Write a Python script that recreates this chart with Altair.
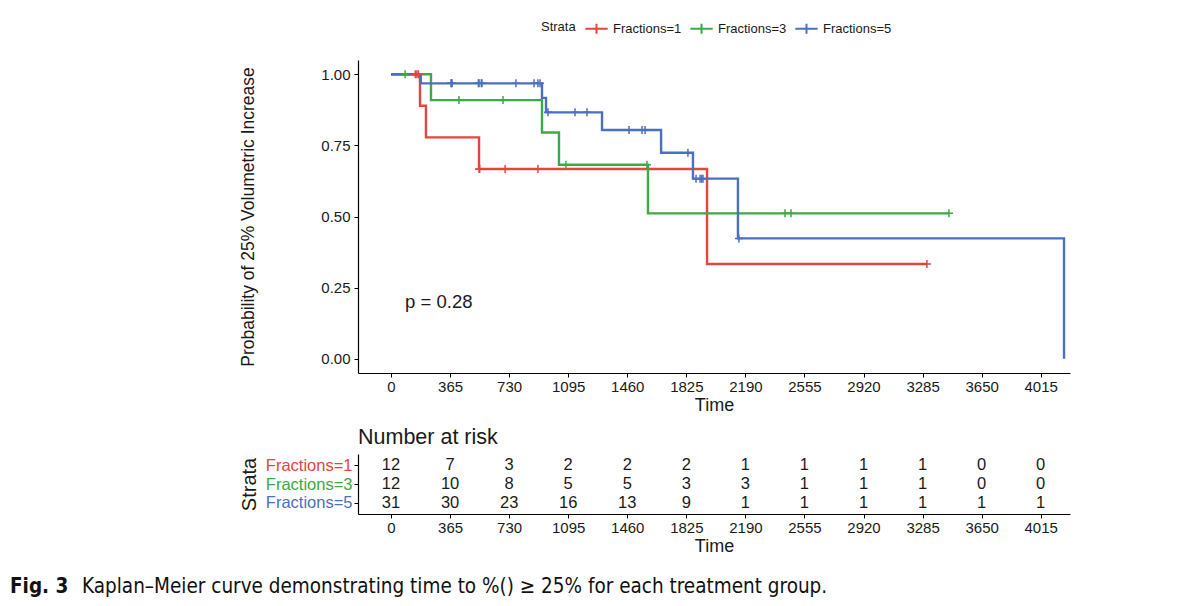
import altair as alt
import pandas as pd

# ---------------- data ----------------
strata = ["Fractions=1", "Fractions=3", "Fractions=5"]
colors = ["#E2463E", "#3DA948", "#4A70BF"]

# Kaplan-Meier step points (time in days, survival)
red_t = [0, 179, 216, 544, 1953, 3312]
red_s = [1.0, 0.889, 0.778, 0.667, 0.333, 0.333]
red_cens = [150, 160, 170, 544, 548, 705, 908, 3312]

green_t = [0, 247, 933, 1038, 1588, 3448]
green_s = [1.0, 0.909, 0.795, 0.682, 0.511, 0.511]
green_cens = [87, 420, 692, 1081, 1582, 2435, 2472, 3448]

blue_t = [0, 184, 933, 958, 1304, 1669, 1866, 2144, 4159]
blue_s = [1.0, 0.968, 0.917, 0.866, 0.804, 0.724, 0.633, 0.423, 0.0]
blue_cens = [371, 374, 377, 540, 544, 558, 562, 772, 884, 908, 921, 970,
             1137, 1211, 1471, 1551, 1570, 1835, 1885, 1910, 1920, 1928, 2150]

time_ticks = [0, 365, 730, 1095, 1460, 1825, 2190, 2555, 2920, 3285, 3650, 4015]
risk_1 = [12, 7, 3, 2, 2, 2, 1, 1, 1, 1, 0, 0]
risk_3 = [12, 10, 8, 5, 5, 3, 3, 1, 1, 1, 0, 0]
risk_5 = [31, 30, 23, 16, 13, 9, 1, 1, 1, 1, 1, 1]

p_text = ["p = 0.28"]
fig_label = ["Fig. 3"]
caption = ["Kaplan\u2013Meier curve demonstrating time to %() \u2265 25% for each treatment group."]

# ---------------- tables ----------------
curves = [(strata[0], red_t, red_s, red_cens),
          (strata[1], green_t, green_s, green_cens),
          (strata[2], blue_t, blue_s, blue_cens)]

step_rows, cens_rows = [], []
for name, ts, ss, cs in curves:
    for t, s in zip(ts, ss):
        step_rows.append({"strata": name, "time": t, "surv": s})
    for c in cs:
        val = ss[0]
        for t, s in zip(ts, ss):
            if t <= c:
                val = s
        cens_rows.append({"strata": name, "time": c, "surv": val})
steps_df = pd.DataFrame(step_rows)
cens_df = pd.DataFrame(cens_rows)

risk_rows = []
for name, arr in zip(strata, [risk_1, risk_3, risk_5]):
    for t, n in zip(time_ticks, arr):
        risk_rows.append({"strata": name, "time": t, "n": n})
risk_df = pd.DataFrame(risk_rows)

FONT = "Liberation Sans"
CAPFONT = "DejaVu Sans Condensed, Liberation Sans Narrow, Liberation Sans"
TXT = "#1a1a1a"

xscale = alt.Scale(domain=[-204, 4196], nice=False, zero=False)

def x_axis():
    return alt.Axis(values=time_ticks, format="d", title="Time", labelFontSize=15,
                    titleFontSize=18, titleFontWeight="normal", labelColor=TXT,
                    titleColor=TXT, domainColor="#000", tickColor="#000", domainWidth=1.2,
                    tickWidth=1, tickSize=4, labelPadding=2, titlePadding=2, grid=False,
                    labelFlush=False, labelFont=FONT, titleFont=FONT)

color_enc = alt.Color("strata:N", scale=alt.Scale(domain=strata, range=colors),
                      legend=alt.Legend(orient="none", legendX=183, legendY=-44,
                                        direction="horizontal", title="Strata",
                                        titleOrient="left", titleFontSize=13,
                                        titleFontWeight="normal", labelFontSize=13,
                                        titleFont=FONT, labelFont=FONT,
                                        titleColor=TXT, labelColor=TXT,
                                        symbolType="M-1,0H1M0,-0.45V0.45",
                                        symbolSize=500, symbolStrokeWidth=2,
                                        columnPadding=4, labelOffset=4, titlePadding=8))

y_axis = alt.Axis(values=[0, 0.25, 0.5, 0.75, 1.0], format=".2f",
                  title="Probability of 25% Volumetric Increase",
                  labelFontSize=15, titleFontSize=17.5, titleFontWeight="normal",
                  labelColor=TXT, titleColor=TXT, domainColor="#000", tickColor="#000",
                  domainWidth=1.2, tickSize=4, labelPadding=4, titlePadding=63, grid=False,
                  labelFont=FONT, titleFont=FONT)

yscale = alt.Scale(domain=[-0.05, 1.05], nice=False, zero=False)

lines = alt.Chart(steps_df).mark_line(interpolate="step-after", strokeWidth=2.4).encode(
    x=alt.X("time:Q", scale=xscale, axis=x_axis()),
    y=alt.Y("surv:Q", scale=yscale, axis=y_axis),
    color=color_enc,
    order=alt.Order("time:Q"),
)

cens = alt.Chart(cens_df).mark_point(shape="M-1,0H1M0,-1V1", size=64, filled=False,
                                     strokeWidth=1.5, opacity=1).encode(
    x=alt.X("time:Q", scale=xscale),
    y=alt.Y("surv:Q", scale=yscale),
    color=color_enc,
)

ptxt = alt.Chart(pd.DataFrame({"label": p_text, "time": [87], "surv": [0.2]})).mark_text(
    align="left", baseline="middle", fontSize=18.5, font=FONT, color=TXT).encode(
    x=alt.X("time:Q", scale=xscale), y=alt.Y("surv:Q", scale=yscale), text="label:N")

main = alt.layer(lines, cens, ptxt).properties(width=712, height=313)

table = alt.Chart(risk_df).mark_text(fontSize=16.5, font=FONT, color=TXT,
                                      baseline="middle").encode(
    x=alt.X("time:Q", scale=xscale, axis=x_axis()),
    y=alt.Y("strata:N", scale=alt.Scale(type="point", domain=strata, padding=0.58),
            axis=alt.Axis(title="Strata", titleFontSize=20, titleFontWeight="normal",
                          titleColor=TXT, titleFont=FONT, labelFont=FONT, labelFontSize=16.5,
                          labelColor={"condition": [
                              {"test": "datum.value == 'Fractions=1'", "value": colors[0]},
                              {"test": "datum.value == 'Fractions=3'", "value": colors[1]}],
                              "value": colors[2]},
                          domainColor="#000", tickColor="#000", domainWidth=1.2,
                          tickSize=4, labelPadding=2, titlePadding=6, grid=False)),
    text="n:Q",
).properties(width=712, height=60,
             title=alt.TitleParams("Number at risk", anchor="start", frame="group",
                                   fontSize=21.5, fontWeight="normal", font=FONT,
                                   color=TXT, offset=6))

cap_df = pd.DataFrame({"a": fig_label, "b": caption})
cap1 = alt.Chart(cap_df).mark_text(align="left", baseline="middle", font=CAPFONT,
                                   fontSize=20.5, fontWeight="bold", color="#111").encode(
    x=alt.value(-348), y=alt.value(10), text="a:N")
cap2 = alt.Chart(cap_df).mark_text(align="left", baseline="middle", font=CAPFONT,
                                   fontSize=20.5, color="#111").encode(
    x=alt.value(-276), y=alt.value(10), text="b:N")
cap = alt.layer(cap1, cap2).properties(width=712, height=20)

chart = alt.vconcat(alt.vconcat(main, table, spacing=12), cap, spacing=22).properties(
    padding={"left": 2, "top": 8, "right": 5, "bottom": 5},
    background="white",
).configure_view(stroke=None)

chart.save("out.html", embed_options={"renderer": "svg", "actions": False})
